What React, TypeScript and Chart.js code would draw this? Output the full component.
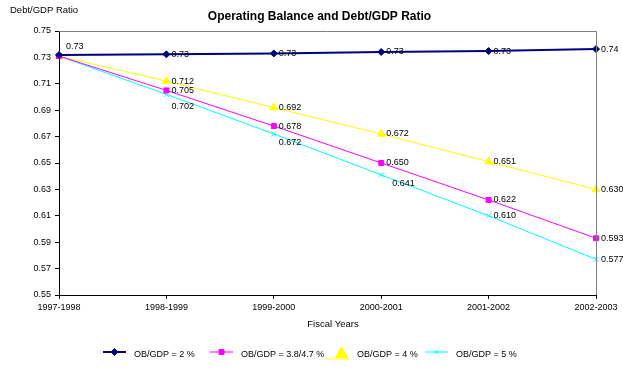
import React, { useEffect, useRef } from "react";
import { Chart, registerables } from "chart.js";
import { drawPoint } from "chart.js/helpers";

Chart.register(...registerables);

const categories = ["1997-1998", "1998-1999", "1999-2000", "2000-2001", "2001-2002", "2002-2003"];
const seriesNames = ["OB/GDP = 2 %", "OB/GDP = 3.8/4.7 %", "OB/GDP = 4 %", "OB/GDP = 5 %"];
const ob2 = [0.7318, 0.7323, 0.733, 0.7341, 0.7348, 0.7363];
const ob38 = [0.731, 0.705, 0.678, 0.65, 0.622, 0.593];
const ob4 = [0.731, 0.712, 0.692, 0.672, 0.651, 0.63];
const ob5 = [0.731, 0.702, 0.672, 0.641, 0.61, 0.577];
const yTicks = { min: 0.55, max: 0.75, step: 0.02 };

const FONT = "Arial, 'Liberation Sans', sans-serif";

const extrasPlugin = {
  id: "extras",
  afterDatasetsDraw(chart: any) {
    const ctx = chart.ctx;
    ctx.save();
    ctx.font = `9px ${FONT}`;
    ctx.fillStyle = "#000";
    ctx.textBaseline = "middle";
    ctx.textAlign = "left";
    chart.data.datasets.forEach((ds: any, di: number) => {
      const meta = chart.getDatasetMeta(di);
      meta.data.forEach((pt: any, i: number) => {
        if (i === 0 && di !== 0) return;
        const v = ds.data[i];
        const txt = di === 0 ? v.toFixed(2) : v.toFixed(3);
        let dx = 5;
        let dy = 0;
        if (di === 0 && i === 0) { dx = 7; dy = -9; }
        if (di === 3 && i >= 1 && i <= 3) {
          dx = i === 3 ? 11 : 5;
          dy = i === 1 ? 12 : 9;
        }
        ctx.fillText(txt, pt.x + dx, pt.y + dy);
      });
    });
    ctx.restore();
  },
  afterDraw(chart: any) {
    const ctx = chart.ctx;
    const a = chart.chartArea;
    ctx.save();
    // gray frame on top and right
    ctx.strokeStyle = "#808080";
    ctx.lineWidth = 1;
    ctx.beginPath();
    ctx.moveTo(a.left, a.top + 0.5);
    ctx.lineTo(a.right + 0.5, a.top + 0.5);
    ctx.lineTo(a.right + 0.5, a.bottom);
    ctx.stroke();

    ctx.fillStyle = "#000";
    ctx.textBaseline = "middle";
    // title
    ctx.font = `bold 12px ${FONT}`;
    ctx.textAlign = "center";
    ctx.fillText("Operating Balance and Debt/GDP Ratio", 319.5, 17);
    // y axis title
    ctx.font = `9.5px ${FONT}`;
    ctx.textAlign = "left";
    ctx.fillText("Debt/GDP Ratio", 10, 10);
    // x axis title
    ctx.textAlign = "center";
    ctx.fillText("Fiscal Years", 333, 324);

    // legend
    const starts = [103, 210, 326, 425];
    const ly = 352;
    ctx.font = `9px ${FONT}`;
    ctx.textAlign = "left";
    chart.data.datasets.forEach((ds: any, di: number) => {
      const x0 = starts[di];
      const isTri = ds.pointStyle === "triangle";
      const lineY = isTri ? ly + 7 : ly;
      ctx.strokeStyle = ds.borderColor;
      ctx.lineWidth = ds.borderWidth;
      ctx.beginPath();
      ctx.moveTo(x0, lineY);
      ctx.lineTo(x0 + 23, lineY);
      ctx.stroke();
      ctx.fillStyle = ds.backgroundColor;
      ctx.strokeStyle = ds.borderColor;
      ctx.lineWidth = 1;
      drawPoint(
        ctx,
        { pointStyle: ds.pointStyle, radius: isTri ? 7 : ds.pointRadius, rotation: 0, borderWidth: 1 },
        x0 + 11.5 + (isTri ? 4 : 0),
        isTri ? ly + 2 : ly
      );
      ctx.fillStyle = "#000";
      ctx.fillText(seriesNames[di], x0 + 31, ly + 3);
    });
    ctx.restore();
  },
};

export default function App() {
  const ref = useRef<HTMLCanvasElement | null>(null);
  useEffect(() => {
    if (!ref.current) return;
    const mk = (label: string, data: number[], color: string, style: string, radius: number, bw: number) => ({
      label,
      data,
      borderColor: color,
      backgroundColor: color,
      borderWidth: bw,
      pointStyle: style,
      pointRadius: radius,
      pointBorderWidth: 1,
      pointBorderColor: color,
      pointBackgroundColor: color,
      tension: 0,
      clip: false,
    });
    const chart = new Chart(ref.current, {
      type: "line",
      data: {
        labels: categories,
        datasets: [
          mk(seriesNames[0], ob2, "#000080", "rectRot", 3.5, 2),
          mk(seriesNames[1], ob38, "#FF00FF", "rect", 3.5, 1),
          mk(seriesNames[2], ob4, "#FFFF00", "triangle", 4.5, 1),
          mk(seriesNames[3], ob5, "#00FFFF", "crossRot", 3.5, 1),
        ] as any,
      },
      options: {
        responsive: false,
        animation: false,
        events: [],
        layout: { padding: { left: 0, right: 27, top: 31, bottom: 56 } },
        plugins: { legend: { display: false }, title: { display: false }, tooltip: { enabled: false } },
        scales: {
          x: {
            type: "category",
            offset: false,
            grid: { drawOnChartArea: false, drawTicks: true, tickLength: 4, color: "#000" },
            border: { color: "#000", width: 1 },
            ticks: { color: "#000", font: { family: FONT, size: 9 }, padding: 3, maxRotation: 0, autoSkip: false },
            afterFit: (s: any) => { s.height = 20; },
          },
          y: {
            min: yTicks.min,
            max: yTicks.max,
            grid: { drawOnChartArea: false, drawTicks: true, tickLength: 4, color: "#000" },
            border: { color: "#000", width: 1 },
            ticks: {
              stepSize: yTicks.step,
              color: "#000",
              font: { family: FONT, size: 9 },
              padding: 4,
              callback: (v: any) => Number(v).toFixed(2),
            },
            afterFit: (s: any) => { s.width = 59; },
          },
        },
      } as any,
      plugins: [extrasPlugin],
    });
    return () => chart.destroy();
  }, []);
  return (
    <div style={{ position: "absolute", left: 0, top: 0, width: 623, height: 371, background: "#fff" }}>
      <canvas ref={ref} width={623} height={371} style={{ display: "block" }} />
    </div>
  );
}
